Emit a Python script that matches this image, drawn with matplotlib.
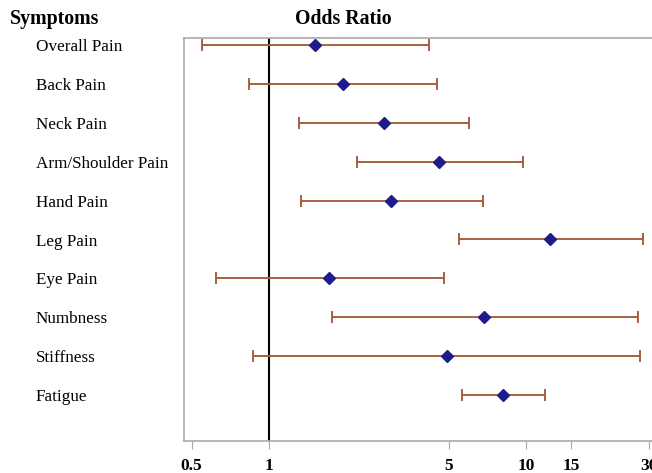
import numpy as np
import matplotlib.pyplot as plt
from matplotlib.transforms import blended_transform_factory

symptoms = ['Overall Pain', 'Back Pain', 'Neck Pain', 'Arm/Shoulder Pain', 'Hand Pain',
            'Leg Pain', 'Eye Pain', 'Numbness', 'Stiffness', 'Fatigue']
odds = [1.51, 1.94, 2.79, 4.60, 2.99, 12.4, 1.71, 6.85, 4.91, 8.09]
lower = [0.547, 0.838, 1.31, 2.19, 1.33, 5.50, 0.62, 1.75, 0.864, 5.65]
upper = [4.20, 4.49, 5.98, 9.68, 6.78, 28.5, 4.78, 27.1, 27.8, 11.86]
xticks = [0.5, 1, 5, 10, 15, 30]
xticklabels = ['0.5', '1', '5', '10', '15', '30']

plt.rcParams['font.family'] = ['Liberation Serif', 'DejaVu Serif']

fig = plt.figure(figsize=(6.52, 4.73), dpi=100)
ax = fig.add_axes([184 / 652, 1 - 441 / 473, 497 / 652, 403 / 473])

y = np.arange(len(symptoms))
odds = np.array(odds)
err = [odds - np.array(lower), np.array(upper) - odds]
ax.errorbar(odds, y, xerr=err, fmt='none', ecolor='#a8603f', elinewidth=1.4,
            capsize=4, capthick=1.4, zorder=2)
ax.plot(odds, y, 'D', color='#1c1c8c', markersize=6, zorder=3)
ax.axvline(1, color='black', linewidth=1.5, zorder=1)

ax.set_xscale('log')
ax.set_xlim(0.467, 40)
ax.set_ylim(len(symptoms) - 1 + 1.18, -0.18)
ax.set_xticks(xticks)
ax.set_xticklabels(xticklabels, fontweight='bold', fontsize=12.5)
ax.minorticks_off()
ax.set_yticks([])
ax.tick_params(axis='x', direction='out', length=6, color='#aaaaaa', pad=6)
for s in ax.spines.values():
    s.set_color('#aaaaaa')
    s.set_linewidth(1.2)

tr = blended_transform_factory(fig.transFigure, ax.transData)
for i, name in enumerate(symptoms):
    fig.text(36 / 652, i, name, transform=tr, ha='left', va='center_baseline', fontsize=12.3)

fig.text(10 / 652, 1 - 19 / 473, 'Symptoms', ha='left', va='center', fontsize=14.3, fontweight='bold')
fig.text(343 / 652, 1 - 19 / 473, 'Odds Ratio', ha='center', va='center', fontsize=14.3, fontweight='bold')

fig.savefig('out.png', dpi=100)
